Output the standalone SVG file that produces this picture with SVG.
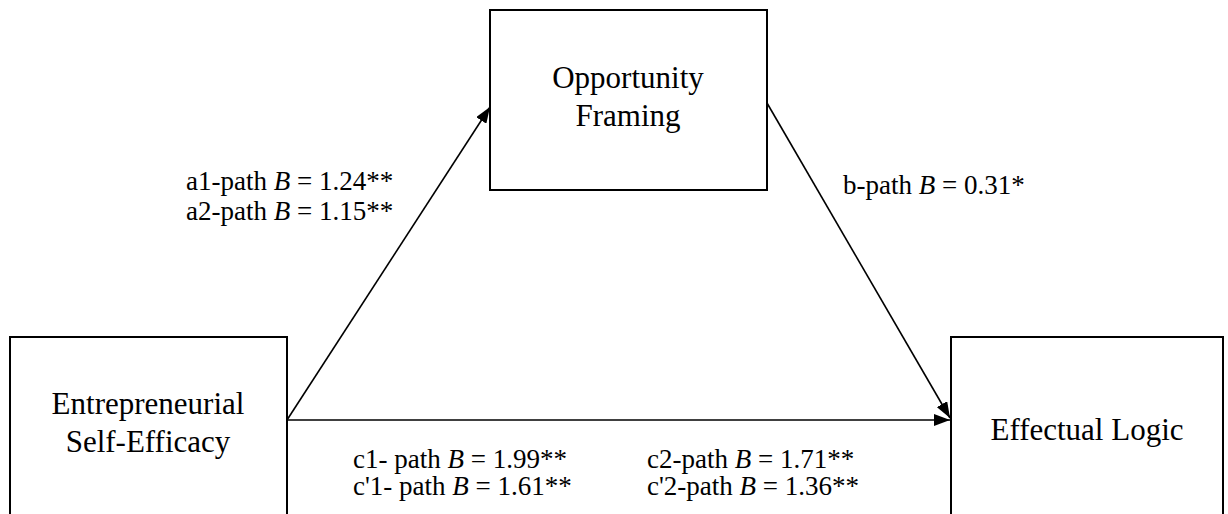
<svg xmlns="http://www.w3.org/2000/svg" width="1228" height="514" viewBox="0 0 1228 514">
<style>
.box{fill:#fff;stroke:#000;stroke-width:2}
.node{font-family:"Liberation Serif","Times New Roman",serif;font-size:31px;fill:#000;text-anchor:middle}
.lab{font-family:"Liberation Serif","Times New Roman",serif;font-size:27px;fill:#000}
.edge{stroke:#000;stroke-width:1.6;fill:none;marker-end:url(#ah)}
</style>
<defs>
<marker id="ah" viewBox="0 0 16 12" refX="16" refY="6" markerWidth="16" markerHeight="12" markerUnits="userSpaceOnUse" orient="auto">
<path d="M0,0 L16,6 L0,12 z" fill="#000"/>
</marker>
</defs>
<rect width="1228" height="514" fill="#fff"/>
<g id="connectors">
<line class="edge" x1="287" y1="420" x2="490" y2="107"/>
<line class="edge" x1="767" y1="103" x2="950" y2="418"/>
<line class="edge" x1="287" y1="420" x2="950" y2="420"/>
</g>
<g id="opportunity">
<rect class="box" x="490" y="10" width="277" height="180"/>
<text class="node" x="628" y="88">Opportunity</text>
<text class="node" x="628" y="126">Framing</text>
</g>
<g id="ese">
<rect class="box" x="10" y="337" width="277" height="190"/>
<text class="node" x="148" y="414">Entrepreneurial</text>
<text class="node" x="148" y="452">Self-Efficacy</text>
</g>
<g id="effectual">
<rect class="box" x="951" y="337" width="272" height="190"/>
<text class="node" x="1087" y="440">Effectual Logic</text>
</g>
<g id="labels">
<text class="lab" x="186" y="190">a1-path <tspan font-style="italic">B</tspan> = 1.24**</text>
<text class="lab" x="186" y="220">a2-path <tspan font-style="italic">B</tspan> = 1.15**</text>
<text class="lab" x="843" y="194">b-path <tspan font-style="italic">B</tspan> = 0.31*</text>
<text class="lab" x="353" y="468">c1- path <tspan font-style="italic">B</tspan> = 1.99**</text>
<text class="lab" x="353" y="495">c'1- path <tspan font-style="italic">B</tspan> = 1.61**</text>
<text class="lab" x="647" y="468">c2-path <tspan font-style="italic">B</tspan> = 1.71**</text>
<text class="lab" x="647" y="495">c'2-path <tspan font-style="italic">B</tspan> = 1.36**</text>
</g>
</svg>
